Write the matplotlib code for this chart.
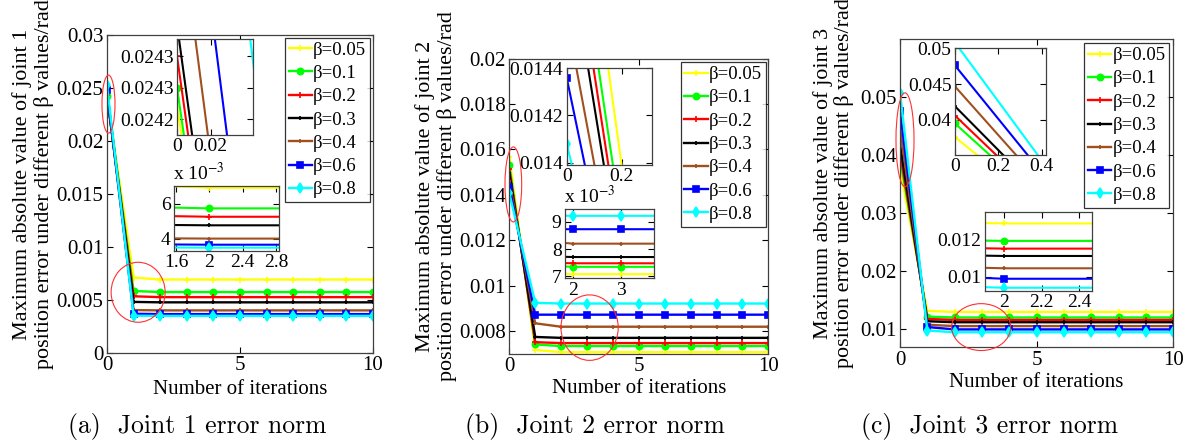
import matplotlib
matplotlib.use('Agg')
import matplotlib.pyplot as plt
from matplotlib.patches import Ellipse
from matplotlib.ticker import FixedLocator, FixedFormatter, FuncFormatter

plt.rcParams['font.family'] = ['Liberation Serif', 'DejaVu Serif']
plt.rcParams['mathtext.fontset'] = 'stix'

W, H = 1190, 441

iters = [0, 1, 2, 3, 4, 5, 6, 7, 8, 9, 10]
beta_labels = ['β=0.05', 'β=0.1', 'β=0.2', 'β=0.3', 'β=0.4', 'β=0.6', 'β=0.8']
colors = ['#ffff00', '#00ff00', '#ff0000', '#000000', '#a0501e', '#0000ff', '#00ffff']
markers = ['+', 'o', '+', '+', '+', 's', 'd']
msizes = [5, 4.5, 5, 3, 3, 5, 5]

# max abs position error per iteration, one row per beta
joint1 = [
    [0.02422, 0.00712, 0.00693, 0.00693, 0.00693, 0.00693, 0.00693, 0.00693, 0.00693, 0.00693, 0.00693],
    [0.02425, 0.00585, 0.00575, 0.00575, 0.00575, 0.00575, 0.00575, 0.00575, 0.00575, 0.00575, 0.00575],
    [0.02430, 0.00535, 0.00527, 0.00527, 0.00527, 0.00527, 0.00527, 0.00527, 0.00527, 0.00527, 0.00527],
    [0.02435, 0.00482, 0.00478, 0.00478, 0.00478, 0.00478, 0.00478, 0.00478, 0.00478, 0.00478, 0.00478],
    [0.02455, 0.00405, 0.00402, 0.00402, 0.00402, 0.00402, 0.00402, 0.00402, 0.00402, 0.00402, 0.00402],
    [0.02480, 0.00370, 0.00367, 0.00367, 0.00367, 0.00367, 0.00367, 0.00367, 0.00367, 0.00367, 0.00367],
    [0.02527, 0.00352, 0.00350, 0.00350, 0.00350, 0.00350, 0.00350, 0.00350, 0.00350, 0.00350, 0.00350],
]
joint2 = [
    [0.01568, 0.00718, 0.00708, 0.00708, 0.00708, 0.00708, 0.00708, 0.00708, 0.00708, 0.00708, 0.00708],
    [0.01531, 0.00742, 0.00735, 0.00735, 0.00735, 0.00735, 0.00735, 0.00735, 0.00735, 0.00735, 0.00735],
    [0.01514, 0.00752, 0.00748, 0.00748, 0.00748, 0.00748, 0.00748, 0.00748, 0.00748, 0.00748, 0.00748],
    [0.01496, 0.00775, 0.00771, 0.00771, 0.00771, 0.00771, 0.00771, 0.00771, 0.00771, 0.00771, 0.00771],
    [0.01462, 0.00835, 0.00820, 0.00820, 0.00820, 0.00820, 0.00820, 0.00820, 0.00820, 0.00820, 0.00820],
    [0.01436, 0.00873, 0.00873, 0.00873, 0.00873, 0.00873, 0.00873, 0.00873, 0.00873, 0.00873, 0.00873],
    [0.01408, 0.00925, 0.00922, 0.00922, 0.00922, 0.00922, 0.00922, 0.00922, 0.00922, 0.00922, 0.00922],
]
joint3 = [
    [0.0376, 0.0131, 0.0129, 0.0129, 0.0129, 0.0129, 0.0129, 0.0129, 0.0129, 0.0129, 0.0129],
    [0.0395, 0.0121, 0.01195, 0.01195, 0.01195, 0.01195, 0.01195, 0.01195, 0.01195, 0.01195, 0.01195],
    [0.0406, 0.0117, 0.01153, 0.01153, 0.01153, 0.01153, 0.01153, 0.01153, 0.01153, 0.01153, 0.01153],
    [0.0419, 0.0113, 0.01113, 0.01113, 0.01113, 0.01113, 0.01113, 0.01113, 0.01113, 0.01113, 0.01113],
    [0.04467, 0.0107, 0.01046, 0.01046, 0.01046, 0.01046, 0.01046, 0.01046, 0.01046, 0.01046, 0.01046],
    [0.0476, 0.0103, 0.00989, 0.00989, 0.00989, 0.00989, 0.00989, 0.00989, 0.00989, 0.00989, 0.00989],
    [0.0508, 0.0097, 0.0094, 0.0094, 0.0094, 0.0094, 0.0094, 0.0094, 0.0094, 0.0094, 0.0094],
]
caption_text = ['(a)  Joint 1 error norm', '(b)  Joint 2 error norm', '(c)  Joint 3 error norm']

fig = plt.figure(figsize=(W / 100, H / 100), dpi=100)


def px_axes(x0, y0, x1, y1):
    return fig.add_axes([x0 / W, 1 - y1 / H, (x1 - x0) / W, (y1 - y0) / H])


def style(ax, size):
    ax.tick_params(direction='in', top=True, right=True, length=4, width=0.8,
                   labelsize=size, pad=2.5)
    for s in ax.spines.values():
        s.set_linewidth(0.9)
        s.set_color('#404040')


def draw_lines(ax, data, lw=1.7):
    for vals, c, m, ms, lab in zip(data, colors, markers, msizes, beta_labels):
        ax.plot(iters, vals, color=c, lw=lw, marker=m, ms=ms, mew=1.2,
                mec=c, mfc=c, label=lab)


def gfmt(v, pos):
    return f'{v:g}'


def milli(v, pos):
    return f'{v * 1e3:g}'


def main_panel(rect, data, ylim, yticks, joint, lab_xy, leg_xy, caption_x):
    ax = px_axes(*rect)
    draw_lines(ax, data)
    ax.set_xlim(0, 10)
    ax.set_ylim(*ylim)
    ax.set_xticks([0, 5, 10])
    ax.set_yticks(yticks)
    ax.yaxis.set_major_formatter(FuncFormatter(gfmt))
    style(ax, 15)
    ax.set_xlabel('Number of iterations', fontsize=15)
    ax.xaxis.set_label_coords(0.5, -0.085)
    ax.set_ylabel('Maximum absolute value of joint %d\n'
                  'position error under different β values/rad' % joint,
                  fontsize=15.9, linespacing=1.1)
    ax.yaxis.set_label_coords(*lab_xy)
    leg = ax.legend(loc='upper left', bbox_to_anchor=(leg_xy[0] / W, 1 - leg_xy[1] / H),
                    bbox_transform=fig.transFigure, fontsize=13.5, frameon=True,
                    fancybox=False, borderaxespad=0, borderpad=0.2,
                    labelspacing=0.33, handlelength=1.25, handletextpad=0.05)
    leg.get_frame().set_edgecolor('black')
    leg.get_frame().set_linewidth(0.9)
    fig.text(caption_x / W, 1 - 427 / H, caption_text[joint - 1], fontsize=18.5,
             family='cmr10', ha='center', va='center')
    return ax


def inset(rect, data, xlim, ylim, xticks, yticks, yfmt, ylabels=None, scaled=False):
    ax = px_axes(*rect)
    draw_lines(ax, data, lw=1.5)
    ax.set_xlim(*xlim)
    ax.set_ylim(*ylim)
    ax.xaxis.set_major_locator(FixedLocator(xticks))
    ax.xaxis.set_major_formatter(FuncFormatter(gfmt))
    ax.yaxis.set_major_locator(FixedLocator(yticks))
    if ylabels is not None:
        ax.yaxis.set_major_formatter(FixedFormatter(ylabels))
    else:
        ax.yaxis.set_major_formatter(FuncFormatter(yfmt))
    style(ax, 14)
    if scaled:
        ax.text(-0.01, 1.03, r'x 10$^{-3}$', transform=ax.transAxes,
                fontsize=14, ha='left', va='bottom')
    return ax


def ring(ax, cx, cy, w, h):
    ax.add_patch(Ellipse((cx, cy), w, h, fill=False, ec='#ff3030', lw=0.8,
                         clip_on=False, zorder=5))


# joint 1
ax1 = main_panel((107, 35, 373, 353), joint1, (0, 0.03),
                 [0, 0.005, 0.01, 0.015, 0.02, 0.025, 0.03], 1,
                 (-0.2, 0.53), (285, 37.7), 197)
ring(ax1, 0.056, 0.02348, 0.49, 0.00547)
ring(ax1, 1.17, 0.00573, 2.03, 0.00566)
inset((177, 39, 253, 135), joint1, (0, 0.045), (0.024175, 0.024327),
      [0, 0.02], [0.0242, 0.02425, 0.0243], gfmt,
      ylabels=['0.0242', '0.0243', '0.0243'])
inset((174, 186, 279, 251), joint1, (1.575, 2.836), (0.00331, 0.00703),
      [1.6, 2, 2.4, 2.8], [0.004, 0.006], milli, scaled=True)

# joint 2
ax2 = main_panel((509.3, 58.5, 768.3, 354), joint2, (0.007, 0.02),
                 [0.008, 0.01, 0.012, 0.014, 0.016, 0.018, 0.02], 2,
                 (-0.202, 0.535), (680.7, 62.3), 595)
ring(ax2, 0.156, 0.01446, 0.645, 0.0033)
ring(ax2, 3.1, 0.00816, 2.21, 0.00288)
inset((566.7, 68.3, 652.3, 165), joint2, (0, 0.31), (0.01399, 0.0144),
      [0, 0.2], [0.014, 0.0142, 0.0144], gfmt)
inset((565, 209.3, 654.3, 278.3), joint2, (1.83, 3.7), (0.00693, 0.00946),
      [2, 3], [0.007, 0.008, 0.009], milli, scaled=True)

# joint 3
ax3 = main_panel((900, 39.3, 1173.3, 347.3), joint3, (0.0068, 0.06),
                 [0.01, 0.02, 0.03, 0.04, 0.05], 3,
                 (-0.168, 0.533), (1084.3, 43.3), 990)
ring(ax3, 0.183, 0.04265, 0.66, 0.0162)
ring(ax3, 2.97, 0.01029, 2.16, 0.0081)
inset((955, 48.3, 1046, 155), joint3, (0, 0.42), (0.0351, 0.05),
      [0, 0.2, 0.4], [0.04, 0.045, 0.05], gfmt)
inset((985, 211.7, 1092.3, 290.7), joint3, (1.897, 2.469), (0.00924, 0.01354),
      [2, 2.2, 2.4], [0.01, 0.012], gfmt)

fig.savefig('out.png', dpi=100)
